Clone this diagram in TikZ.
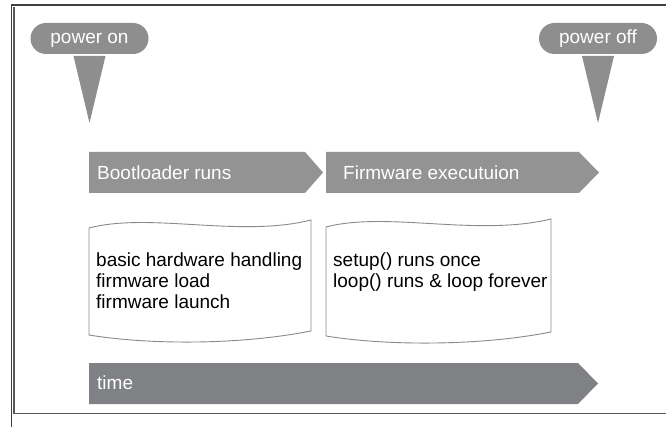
\documentclass[tikz,border=0pt]{standalone}
\usepackage{fontspec}
\setmainfont{Liberation Sans}
\usetikzlibrary{shapes.misc}
\definecolor{pingray}{HTML}{8E8E8E}
\definecolor{bargray}{HTML}{939393}
\definecolor{timegray}{HTML}{808184}
\definecolor{linegray}{HTML}{8A8A8A}
\tikzset{
  pill/.style={rounded rectangle,fill=pingray,text=white,minimum width=118pt,
    minimum height=31pt,inner sep=0pt,text height=10pt,text depth=0pt},
  bar/.style={fill=bargray},
  bartext/.style={anchor=base west,text=white,inner sep=0pt},
  wave/.style={draw=linegray,line width=0.9pt,fill=white},
  note/.style={anchor=north west,align=left,inner sep=0pt},
  frame/.style={line width=1.8pt,draw=black!75},
  framein/.style={line width=1.4pt,draw=black!65},
}

\begin{document}
\begin{tikzpicture}[x=1pt,y=-1pt,font=\fontsize{19}{21}\selectfont]
  \useasboundingbox (0,0) rectangle (666,427);
  % frame
  \draw[frame] (11.5,427) -- (11.5,5) -- (666,5);
  \draw[framein] (14,7) -- (14,413.5) -- (666,413.5);
  % power pins
  \foreach \cx/\nm/\txt in {89.5/on/power on,598/off/power off}{
    \node[pill] (\nm) at (\cx,38.5) {\txt};
    \fill[pingray] (\cx-16,56) -- (\cx+16,56) -- (\cx,123) -- cycle;
  }
  % phases
  \fill[bar] (89,152) -- (305,152) -- (323,172.5) -- (305,193) -- (89,193) -- cycle;
  \node[bartext] (boot) at (97,179.5) {Bootloader runs};
  \fill[bar] (326,152) -- (579,152) -- (599,172.5) -- (579,193) -- (326,193) -- cycle;
  \node[bartext] (fw) at (343,179.5) {Firmware executuion};
  % notes
  \draw[wave] (89,228) .. controls (150,212) and (240,238) .. (311,220)
    -- (311,331) .. controls (240,345) and (150,345) .. (89,335) -- cycle;
  \node[note] (bootnote) at (96,252.5)
    {basic hardware handling\\firmware load\\firmware launch};
  \draw[wave] (326,227) .. controls (387,211) and (477,237) .. (551,219)
    -- (551,332) .. controls (480,346) and (387,346) .. (326,336) -- cycle;
  \node[note] (fwnote) at (333,252.5)
    {setup() runs once\\loop() runs \& loop forever};
  % time
  \fill[timegray] (89,363) -- (578,363) -- (598,383.5) -- (578,404) -- (89,404) -- cycle;
  \node[bartext] (time) at (97,389) {time};
\end{tikzpicture}
\end{document}
